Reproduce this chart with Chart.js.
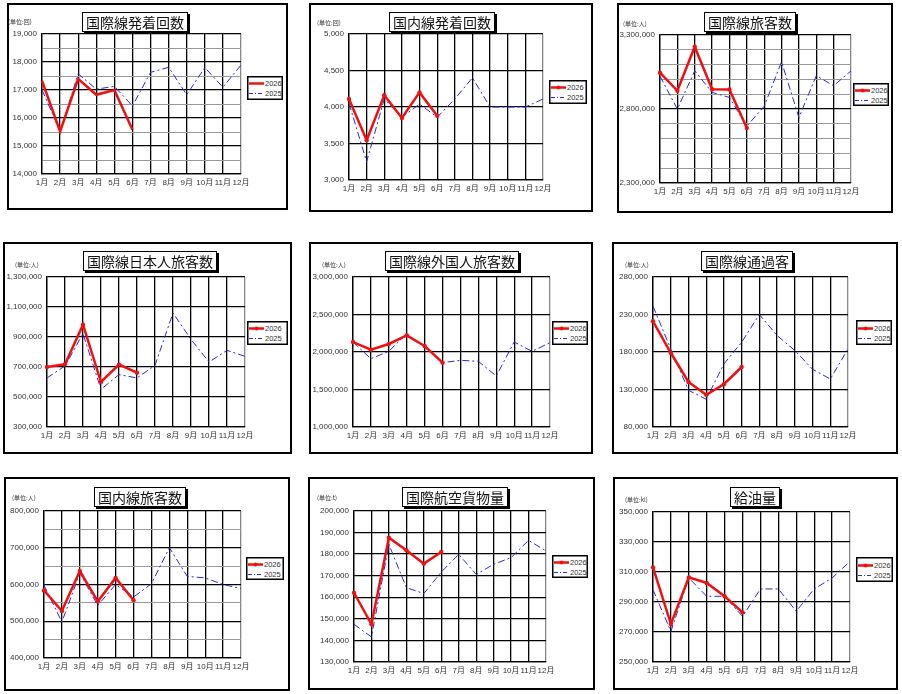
<!DOCTYPE html>
<html>
<head>
<meta charset="utf-8">
<script src="https://cdn.jsdelivr.net/npm/chart.js@4.4.1/dist/chart.umd.min.js"></script>
<style>
body { margin: 0; background: #fff; width: 902px; height: 694px; position: relative; overflow: hidden; font-family: "Noto Sans CJK JP", sans-serif; }
.panel { position: absolute; border: 2px solid #000; box-sizing: border-box; background: #fff; }
.panel canvas { position: absolute; left: 0; top: 0; }
.title { position: absolute; border: 1px solid #000; background: #fff; box-shadow: 2px 2px 0 #000; font-size: 14px; line-height: 18px; padding: 0 3px; white-space: nowrap; transform: translateX(-50%); color: #111; }
.unit { position: absolute; font-size: 6px; color: #333; white-space: nowrap; }
.legend { position: absolute; }
</style>
</head>
<body>
<script>
const months = ['1月', '2月', '3月', '4月', '5月', '6月', '7月', '8月', '9月', '10月', '11月', '12月'];
const seriesNames = ['2026', '2025'];

const titles = ['国際線発着回数', '国内線発着回数', '国際線旅客数', '国際線日本人旅客数', '国際線外国人旅客数', '国際線通過客', '国内線旅客数', '国際航空貨物量', '給油量'];
const units = ['(単位:回)', '(単位:回)', '(単位:人)', '(単位:人)', '(単位:人)', '(単位:人)', '(単位:人)', '(単位:t)', '(単位:kl)'];

// 2026 (Jan-Jun) and 2025 (full year)
const intlFlights2026 = [17330, 15520, 17400, 16830, 17000, 15580];
const intlFlights2025 = [17010, 15520, 17580, 17030, 17130, 16430, 17630, 17810, 16830, 17800, 17100, 17890];
const domFlights2026 = [4110, 3545, 4160, 3850, 4200, 3880];
const domFlights2025 = [4050, 3250, 4110, 3860, 4040, 3860, 4110, 4400, 4000, 4000, 4000, 4110];
const intlPax2026 = [3045000, 2923000, 3221000, 2934000, 2932000, 2672000];
const intlPax2025 = [3022000, 2799000, 3058000, 2912000, 2878000, 2684000, 2819000, 3119000, 2742000, 3025000, 2957000, 3058000];
const jpnPax2026 = [700000, 718000, 982000, 600000, 716000, 662000];
const jpnPax2025 = [627000, 707000, 922000, 551000, 649000, 627000, 711000, 1060000, 884000, 733000, 811000, 771000];
const frgPax2026 = [2133000, 2031000, 2107000, 2222000, 2080000, 1858000];
const frgPax2025 = [2133000, 1911000, 2009000, 2244000, 2067000, 1858000, 1889000, 1876000, 1680000, 2133000, 2009000, 2124000];
const transit2026 = [221000, 179000, 140000, 123000, 137000, 160000];
const transit2025 = [241000, 184000, 129000, 117000, 164000, 193000, 230000, 202000, 182000, 157000, 144000, 184000];
const domPax2026 = [584000, 528000, 637000, 554000, 618000, 557000];
const domPax2025 = [598000, 498000, 631000, 543000, 600000, 566000, 602000, 700000, 622000, 618000, 600000, 589000];
const cargo2026 = [162100, 147500, 187600, 181800, 175600, 181000];
const cargo2025 = [147500, 141600, 184500, 164500, 161700, 171700, 179900, 170600, 175300, 178400, 186400, 181500];
const fuel2026 = [313100, 275300, 306400, 302700, 293800, 283100];
const fuel2025 = [298200, 270400, 306000, 293800, 293800, 280400, 298700, 298700, 283800, 298700, 306000, 317100];

// y axis: [min, max, grid step, label step]
const yAxes = [
    [14000, 19000, 500, 1000],
    [3000, 5000, 500, 500],
    [2300000, 3300000, 100000, 500000],
    [300000, 1300000, 200000, 200000],
    [1000000, 3000000, 500000, 500000],
    [80000, 280000, 50000, 50000],
    [400000, 800000, 50000, 100000],
    [130000, 200000, 10000, 10000],
    [250000, 350000, 20000, 20000]
];

const current = [intlFlights2026, domFlights2026, intlPax2026, jpnPax2026, frgPax2026, transit2026, domPax2026, cargo2026, fuel2026];
const previous = [intlFlights2025, domFlights2025, intlPax2025, jpnPax2025, frgPax2025, transit2025, domPax2025, cargo2025, fuel2025];

// layout per panel: box [l,t,r,b], plot [l,t,r,b], title centre [x,y], legend [x,y,w,h], unit [x,y]
const layout = [
    { box: [7, 3, 288, 210], plot: [42, 34, 241, 174], title: [135, 12], legend: [247, 76, 36, 24], unit: [8, 17], markers: false },
    { box: [309, 3, 593, 212], plot: [349, 34, 543, 180], title: [442, 12], legend: [549, 80, 38, 24], unit: [317, 18], markers: true },
    { box: [617, 3, 893, 213], plot: [660, 35, 851, 183], title: [750, 12], legend: [853, 83, 36, 23], unit: [623, 19], markers: true },
    { box: [3, 242, 292, 454], plot: [47, 277, 245, 427], title: [150, 251], legend: [247, 321, 41, 24], unit: [15, 260], markers: true },
    { box: [309, 242, 593, 454], plot: [353, 277, 550, 427], title: [452, 251], legend: [552, 321, 36, 24], unit: [322, 260], markers: true },
    { box: [612, 242, 898, 454], plot: [653, 277, 848, 427], title: [747, 251], legend: [856, 320, 36, 25], unit: [625, 260], markers: true },
    { box: [4, 477, 290, 691], plot: [44, 511, 241, 658], title: [140, 487], legend: [246, 557, 38, 23], unit: [12, 493], markers: true },
    { box: [308, 477, 595, 690], plot: [354, 511, 546, 662], title: [455, 487], legend: [552, 555, 36, 23], unit: [317, 493], markers: true },
    { box: [613, 477, 898, 690], plot: [653, 512, 850, 662], title: [755, 487], legend: [856, 557, 37, 25], unit: [625, 495], markers: true }
];

const BW = 2; // panel border width
const RED = '#f01010';
const BLUE = '#2a2ad0';
const tickFont = { family: '"Liberation Sans", "Noto Sans CJK JP", sans-serif', size: 8 };

function legendSvg(w, h, markers) {
    const y1 = Math.round(h * 0.3) + 0.5, y2 = Math.round(h * 0.72) + 0.5;
    const mk = markers ? `<circle cx="9.5" cy="${y1}" r="2" fill="${RED}"/>` : '';
    return `<svg width="${w}" height="${h}" xmlns="http://www.w3.org/2000/svg">
      <rect x="0.75" y="0.75" width="${w - 1.5}" height="${h - 1.5}" fill="#fff" stroke="#000" stroke-width="1.5"/>
      <line x1="2" y1="${y1}" x2="17" y2="${y1}" stroke="${RED}" stroke-width="2.5"/>${mk}
      <line x1="2" y1="${y2}" x2="17" y2="${y2}" stroke="${BLUE}" stroke-width="1" stroke-dasharray="4,2,1,2"/>
      <text x="18" y="${y1 + 2.5}" font-family="Liberation Sans" font-size="7.5" fill="#333">${seriesNames[0]}</text>
      <text x="18" y="${y2 + 2.5}" font-family="Liberation Sans" font-size="7.5" fill="#333">${seriesNames[1]}</text>
    </svg>`;
}

layout.forEach((p, i) => {
    const [bl, bt, br, bb] = p.box;
    const [pl, pt, pr, pb] = p.plot;
    const w = br - bl, h = bb - bt;

    const div = document.createElement('div');
    div.className = 'panel';
    div.style.cssText = `left:${bl}px;top:${bt}px;width:${w}px;height:${h}px;`;
    const canvas = document.createElement('canvas');
    canvas.width = w - 2 * BW;
    canvas.height = h - 2 * BW;
    div.appendChild(canvas);
    document.body.appendChild(div);

    const t = document.createElement('div');
    t.className = 'title';
    t.textContent = titles[i];
    t.style.left = p.title[0] + 'px';
    t.style.top = p.title[1] + 'px';
    document.body.appendChild(t);

    const u = document.createElement('div');
    u.className = 'unit';
    u.textContent = units[i];
    u.style.left = p.unit[0] + 'px';
    u.style.top = p.unit[1] + 'px';
    document.body.appendChild(u);

    const lg = document.createElement('div');
    lg.className = 'legend';
    lg.style.cssText = `left:${p.legend[0]}px;top:${p.legend[1]}px;`;
    lg.innerHTML = legendSvg(p.legend[2], p.legend[3], p.markers);
    document.body.appendChild(lg);

    const [ymin, ymax, step, major] = yAxes[i];
    const leftW = pl - bl - BW, topPad = pt - bt - BW, rightPad = br - BW - pr, bottomH = bb - BW - pb;

    new Chart(canvas, {
        type: 'line',
        data: {
            labels: months,
            datasets: [
                {
                    label: seriesNames[0],
                    data: current[i],
                    borderColor: RED,
                    backgroundColor: RED,
                    borderWidth: 2.5,
                    pointRadius: p.markers ? 2.2 : 0,
                    pointBorderWidth: 0,
                    tension: 0
                },
                {
                    label: seriesNames[1],
                    data: previous[i],
                    borderColor: BLUE,
                    borderWidth: 1,
                    borderDash: [7, 3, 2, 3],
                    pointRadius: 0,
                    tension: 0
                }
            ]
        },
        options: {
            responsive: false,
            animation: false,
            events: [],
            layout: { padding: { left: 0, top: topPad, right: rightPad, bottom: 0 } },
            plugins: { legend: { display: false }, tooltip: { enabled: false } },
            scales: {
                x: {
                    grid: { color: c => c.index === 11 ? '#888' : '#000', lineWidth: 1.3, drawTicks: false },
                    border: { color: '#000', width: 1.3 },
                    ticks: { padding: 4, font: tickFont, color: '#333', maxRotation: 0, autoSkip: false },
                    afterFit: s => { s.height = bottomH; }
                },
                y: {
                    min: ymin,
                    max: ymax,
                    grid: {
                        color: c => (c.tick.value - ymin) % major === 0 ? '#000' : '#999',
                        lineWidth: c => (c.tick.value - ymin) % major === 0 ? 1.3 : 1,
                        drawTicks: false
                    },
                    border: { color: '#000', width: 1.3 },
                    ticks: {
                        stepSize: step,
                        padding: 5,
                        font: tickFont,
                        color: '#333',
                        callback: v => ((v - ymin) % major === 0 ? v.toLocaleString('en-US') : '')
                    },
                    afterFit: s => { s.width = leftW; }
                }
            }
        }
    });
});
</script>
</body>
</html>
